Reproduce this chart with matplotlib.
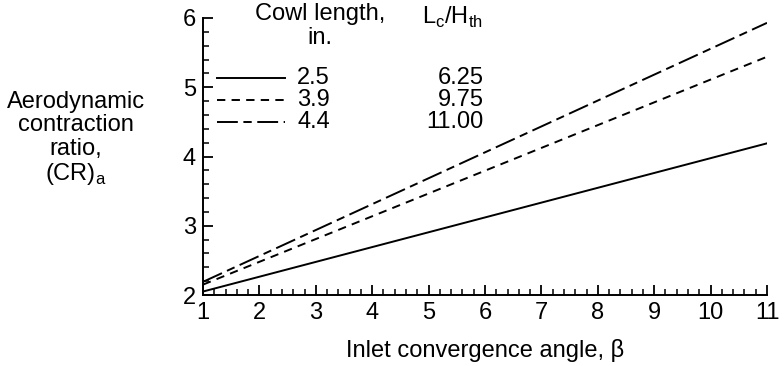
import matplotlib
matplotlib.use("Agg")
import matplotlib.pyplot as plt
from matplotlib.ticker import MultipleLocator

plt.rcParams['font.family'] = ['Liberation Sans', 'DejaVu Sans']
plt.rcParams['lines.scale_dashes'] = False
plt.rcParams['mathtext.fontset'] = 'custom'
plt.rcParams['mathtext.rm'] = 'Liberation Sans'

# Inlet convergence angle (beta) range and contraction ratio end points
beta = [1, 11]
cr_25 = [2.05, 4.19]
cr_39 = [2.15, 5.44]
cr_44 = [2.19, 5.93]

cowl_length = ["2.5", "3.9", "4.4"]
lc_hth = ["6.25", "9.75", "11.00"]

W, H = 784, 366
FS = 17
fig = plt.figure(figsize=(W / 100, H / 100), dpi=100)
ax = fig.add_axes([203 / W, 1 - 295 / H, (767 - 203) / W, (295 - 18) / H])

lw = 1.4
styles = [
    dict(linestyle='-'),
    dict(linestyle=(0, (6, 4.5))),
    dict(linestyle=(0, (15, 4, 6, 4))),
]
for y, st in zip([cr_25, cr_39, cr_44], styles):
    ax.plot(beta, y, color='black', lw=lw, **st)

ax.set_xlim(1, 11)
ax.set_ylim(2, 6)
ax.xaxis.set_major_locator(MultipleLocator(1))
ax.xaxis.set_minor_locator(MultipleLocator(0.2))
ax.yaxis.set_major_locator(MultipleLocator(1))
ax.yaxis.set_minor_locator(MultipleLocator(0.2))
for side in ('top', 'right'):
    ax.spines[side].set_visible(False)
for side in ('left', 'bottom'):
    ax.spines[side].set_linewidth(1.4)
ax.tick_params(which='major', direction='in', length=7, width=1.3,
               labelsize=FS, pad=5)
ax.tick_params(which='minor', direction='in', length=4, width=1.1)

ax.set_xlabel('Inlet convergence angle, β', fontsize=FS, labelpad=11)

fig.text(76 / W, 1 - 139 / H, 'Aerodynamic\ncontraction\nratio,\n(CR)$_\\mathregular{a}$',
         ha='center', va='center', fontsize=FS, linespacing=1.07)

# Legend block drawn in figure pixel positions
def fx(px):
    return px / W

def fy(py):
    return 1 - py / H

fig.text(fx(320), fy(14), 'Cowl length,', ha='center', va='center', fontsize=FS)
fig.text(fx(320), fy(38), 'in.', ha='center', va='center', fontsize=FS)
fig.text(fx(452), fy(17), 'L$_\\mathregular{c}$/H$_\\mathregular{th}$', ha='center',
         va='center', fontsize=FS)

rows = [78, 100, 122]
for r, st, cl, lh in zip(rows, styles, cowl_length, lc_hth):
    fig.add_artist(plt.Line2D([fx(217), fx(285)], [fy(r), fy(r)], color='black',
                              lw=lw, transform=fig.transFigure, **st))
    fig.text(fx(297), fy(r), cl, ha='left', va='center', fontsize=FS)
    fig.text(fx(484), fy(r), lh, ha='right', va='center', fontsize=FS)

fig.savefig('out.png', dpi=100)
